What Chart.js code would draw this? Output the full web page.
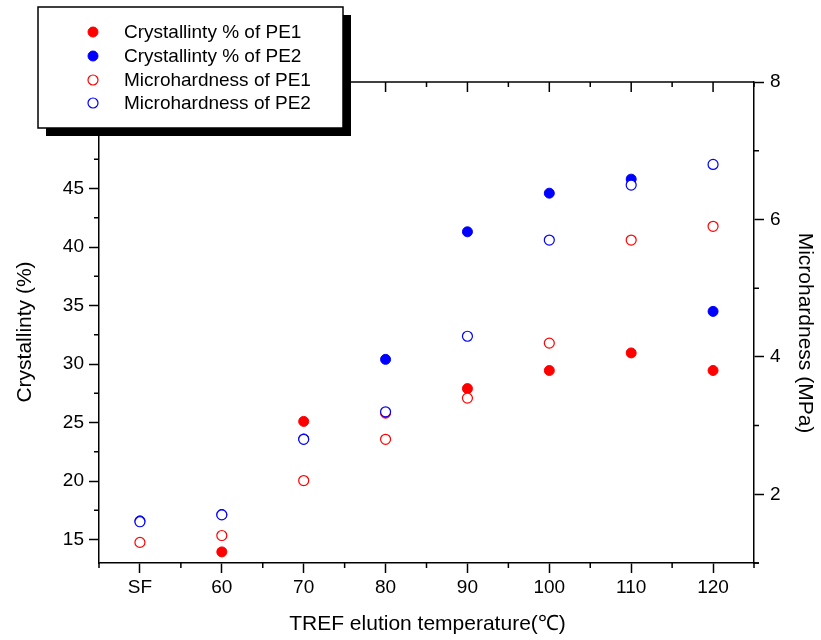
<!DOCTYPE html>
<html>
<head>
<meta charset="utf-8">
<script src="https://cdn.jsdelivr.net/npm/chart.js@4/dist/chart.umd.min.js"></script>
<style>
  html, body { margin: 0; padding: 0; background: #ffffff; }
  #wrap { width: 821px; height: 640px; }
</style>
</head>
<body>
<div id="wrap"><canvas id="c" width="821" height="640"></canvas></div>
<script>
// ---- data ----
const xLabels = ['SF', '60', '70', '80', '90', '100', '110', '120'];
const crystPE1 = [null, 13.95, 25.1, 25.8, 27.9, 29.45, 30.95, 29.45];
const crystPE2 = [16.6, 17.15, 23.6, 30.4, 41.3, 44.6, 45.8, 34.5];
const hardPE1 = [1.3, 1.4, 2.2, 2.8, 3.4, 4.2, 5.7, 5.9];
const hardPE2 = [1.6, 1.7, 2.8, 3.2, 4.3, 5.7, 6.5, 6.8];
const leftTicks = [15, 20, 25, 30, 35, 40, 45, 50];
const leftMinor = [17.5, 22.5, 27.5, 32.5, 37.5, 42.5, 47.5, 52.5];
const rightTicks = [2, 4, 6, 8];
const rightMinor = [1, 3, 5, 7];
const legendLabels = ['Crystallinty % of PE1', 'Crystallinty % of PE2', 'Microhardness of PE1', 'Microhardness of PE2'];
const xTitle = 'TREF elution temperature(℃)';
const yLeftTitle = 'Crystallinty (%)';
const yRightTitle = 'Microhardness (MPa)';

const RED = '#ff0000', BLUE = '#0000ff';
const FONT = '"Liberation Sans", Arial, sans-serif';

function pts(arr) {
  const out = [];
  arr.forEach((v, i) => { if (v !== null && v !== undefined) out.push({ x: i, y: v }); });
  return out;
}

const datasets = [
  { label: legendLabels[0], data: pts(crystPE1), yAxisID: 'y', order: 2,
    pointRadius: 5, pointBorderWidth: 1, pointBackgroundColor: RED, pointBorderColor: RED, showLine: false,
    filled: true, col: RED },
  { label: legendLabels[1], data: pts(crystPE2), yAxisID: 'y', order: 2,
    pointRadius: 5, pointBorderWidth: 1, pointBackgroundColor: BLUE, pointBorderColor: BLUE, showLine: false,
    filled: true, col: BLUE },
  { label: legendLabels[2], data: pts(hardPE1), yAxisID: 'y2', order: 1,
    pointRadius: 5, pointBorderWidth: 1.2, pointBackgroundColor: '#ffffff', pointBorderColor: RED, showLine: false,
    filled: false, col: RED },
  { label: legendLabels[3], data: pts(hardPE2), yAxisID: 'y2', order: 1,
    pointRadius: 5, pointBorderWidth: 1.2, pointBackgroundColor: '#ffffff', pointBorderColor: BLUE, showLine: false,
    filled: false, col: BLUE }
];

const decor = {
  id: 'decor',
  afterDraw(chart) {
    const ctx = chart.ctx;
    const a = chart.chartArea;
    const sx = chart.scales.x, sy = chart.scales.y, sy2 = chart.scales.y2;
    ctx.save();
    ctx.strokeStyle = '#000';
    ctx.lineWidth = 1.5;
    // top axis line
    ctx.beginPath();
    ctx.moveTo(a.left, a.top); ctx.lineTo(a.right, a.top);
    ctx.stroke();
    // top major ticks (inward)
    ctx.beginPath();
    xLabels.forEach((_, i) => {
      const px = sx.getPixelForValue(i);
      ctx.moveTo(px, a.top); ctx.lineTo(px, a.top + 10);
    });
    // x minor ticks top (inward) and bottom (outward)
    for (let i = 0; i <= xLabels.length; i++) {
      const px = sx.getPixelForValue(i - 0.5);
      ctx.moveTo(px, a.top); ctx.lineTo(px, a.top + 5);
      ctx.moveTo(px, a.bottom); ctx.lineTo(px, a.bottom + 5);
    }
    // left minor ticks
    leftMinor.forEach(v => {
      if (v < sy.min || v > sy.max) return;
      const py = sy.getPixelForValue(v);
      ctx.moveTo(a.left, py); ctx.lineTo(a.left - 5, py);
    });
    // right minor ticks
    rightMinor.forEach(v => {
      if (v < sy2.min || v > sy2.max) return;
      const py = sy2.getPixelForValue(v);
      ctx.moveTo(a.right, py); ctx.lineTo(a.right + 5, py);
    });
    ctx.stroke();
    // bottom axis small extension to the right
    ctx.beginPath();
    ctx.moveTo(a.right, a.bottom); ctx.lineTo(a.right + 5, a.bottom);
    ctx.stroke();

    // axis titles
    ctx.fillStyle = '#000';
    ctx.font = '21px ' + FONT;
    ctx.textAlign = 'center';
    ctx.textBaseline = 'middle';
    ctx.fillText(xTitle, (a.left + a.right) / 2 + 1, 624);
    ctx.save();
    ctx.translate(25, 332);
    ctx.rotate(-Math.PI / 2);
    ctx.fillText(yLeftTitle, 0, 0);
    ctx.restore();
    ctx.save();
    ctx.translate(805, 333);
    ctx.rotate(Math.PI / 2);
    ctx.fillText(yRightTitle, 0, 0);
    ctx.restore();

    // legend box with shadow
    const bx = 38, by = 7, bw = 305, bh = 121;
    ctx.fillStyle = '#000';
    ctx.fillRect(bx + 8, by + 8, bw, bh);
    ctx.fillStyle = '#fff';
    ctx.fillRect(bx, by, bw, bh);
    ctx.lineWidth = 1.5;
    ctx.strokeStyle = '#000';
    ctx.strokeRect(bx, by, bw, bh);
    const rows = [32, 56, 80, 103];
    ctx.font = '19px ' + FONT;
    ctx.textAlign = 'left';
    ctx.textBaseline = 'middle';
    chart.data.datasets.forEach((ds, i) => {
      const y = rows[i];
      ctx.beginPath();
      ctx.arc(93, y, 5, 0, Math.PI * 2);
      if (ds.filled) {
        ctx.fillStyle = ds.col; ctx.fill();
        ctx.lineWidth = 1; ctx.strokeStyle = ds.col; ctx.stroke();
      } else {
        ctx.fillStyle = '#fff'; ctx.fill();
        ctx.lineWidth = 1.2; ctx.strokeStyle = ds.col; ctx.stroke();
      }
      ctx.fillStyle = '#000';
      ctx.fillText(ds.label, 124, y + 1);
    });
    ctx.restore();
  }
};

const tickFont = { family: FONT, size: 19 };

new Chart(document.getElementById('c'), {
  type: 'scatter',
  data: { datasets },
  options: {
    responsive: false,
    animation: false,
    layout: { padding: { top: 82, left: 0, right: 0, bottom: 0 } },
    plugins: { legend: { display: false }, tooltip: { enabled: false } },
    scales: {
      x: {
        type: 'linear', position: 'bottom', min: -0.5, max: 7.5,
        afterBuildTicks: s => { s.ticks = xLabels.map((_, i) => ({ value: i })); },
        afterFit: s => { s.height = 77; },
        ticks: { callback: v => xLabels[v] ?? '', font: tickFont, color: '#000', padding: 3, maxRotation: 0, autoSkip: false },
        grid: { display: true, drawOnChartArea: false, drawTicks: true, tickLength: 10, tickColor: '#000', tickWidth: 1.5 },
        border: { display: true, color: '#000', width: 1.5 }
      },
      y: {
        type: 'linear', position: 'left', min: 13, max: 54.1,
        afterBuildTicks: s => { s.ticks = leftTicks.map(v => ({ value: v })); },
        afterFit: s => { s.width = 99; },
        ticks: { callback: v => String(v), font: tickFont, color: '#000', padding: 5 },
        grid: { display: true, drawOnChartArea: false, drawTicks: true, tickLength: 10, tickColor: '#000', tickWidth: 1.5 },
        border: { display: true, color: '#000', width: 1.5 }
      },
      y2: {
        type: 'linear', position: 'right', min: 1, max: 8,
        afterBuildTicks: s => { s.ticks = rightTicks.map(v => ({ value: v })); },
        afterFit: s => { s.width = 67; },
        ticks: { callback: v => String(v), font: tickFont, color: '#000', padding: 6 },
        grid: { display: true, drawOnChartArea: false, drawTicks: true, tickLength: 10, tickColor: '#000', tickWidth: 1.5 },
        border: { display: true, color: '#000', width: 1.5 }
      }
    }
  },
  plugins: [decor]
});
</script>
</body>
</html>
